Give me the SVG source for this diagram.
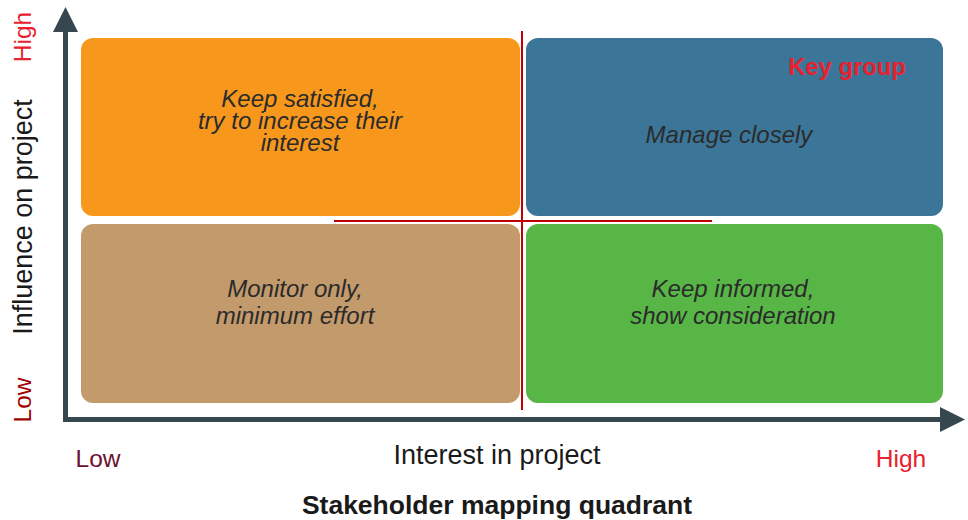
<svg xmlns="http://www.w3.org/2000/svg" width="968" height="520" viewBox="0 0 968 520">
  <style>
    text { font-family: "Liberation Sans", Arial, sans-serif; }
    .quad-label { font-size: 24px; font-style: italic; fill: #2b2b2b; text-anchor: middle; }
    .axis-title { font-size: 27px; fill: #1a1a1a; text-anchor: middle; }
    .tick { font-size: 24.5px; text-anchor: middle; }
    .axis { stroke: #37474f; stroke-width: 5; fill: none; }
    .divider { stroke: #c00000; stroke-width: 2; fill: none; }
  </style>
  <defs>
    <marker id="axisHead" viewBox="0 0 25 25" refX="0" refY="12.5" markerWidth="25" markerHeight="25" markerUnits="userSpaceOnUse" orient="auto">
      <path d="M0,0 L25,12.5 L0,25 Z" fill="#37474f"/>
    </marker>
  </defs>

  <!-- quadrants -->
  <g id="q-keep-satisfied">
    <rect x="81" y="38" width="439" height="178" rx="12" fill="#f7981d"/>
    <text class="quad-label" x="300" y="107">Keep satisfied,</text>
    <text class="quad-label" x="300" y="129">try to increase their</text>
    <text class="quad-label" x="300" y="151">interest</text>
  </g>
  <g id="q-manage-closely">
    <rect x="526" y="38" width="417" height="178" rx="12" fill="#3b7699"/>
    <text class="quad-label" x="729" y="143">Manage closely</text>
    <text x="847" y="75" font-size="23.8" font-weight="bold" fill="#e8212e" text-anchor="middle">Key group</text>
  </g>
  <g id="q-monitor">
    <rect x="81" y="224" width="439" height="179" rx="12" fill="#c39a6b"/>
    <text class="quad-label" x="295" y="297">Monitor only,</text>
    <text class="quad-label" x="295" y="324">minimum effort</text>
  </g>
  <g id="q-keep-informed">
    <rect x="526" y="224" width="417" height="179" rx="12" fill="#58b646"/>
    <text class="quad-label" x="733" y="297">Keep informed,</text>
    <text class="quad-label" x="733" y="324">show consideration</text>
  </g>

  <!-- axes and dividers -->
  <g id="connectors">
    <line class="divider" x1="522" y1="31" x2="522" y2="410"/>
    <line class="divider" x1="334" y1="221" x2="712" y2="221"/>
    <line class="axis" x1="65.5" y1="422" x2="65.5" y2="32" marker-end="url(#axisHead)"/>
    <line class="axis" x1="63" y1="419.5" x2="940" y2="419.5" marker-end="url(#axisHead)"/>
  </g>

  <!-- axis labels -->
  <g id="y-axis-labels">
    <text class="tick" transform="translate(31,37) rotate(-90)" fill="#e8212e">High</text>
    <text class="axis-title" transform="translate(32,217) rotate(-90)">Influence on project</text>
    <text class="tick" transform="translate(31,400) rotate(-90)" fill="#a00000">Low</text>
  </g>
  <g id="x-axis-labels">
    <text class="tick" x="98" y="467" fill="#6b1030">Low</text>
    <text class="axis-title" x="497" y="464">Interest in project</text>
    <text class="tick" x="901" y="467" fill="#e8212e">High</text>
  </g>

  <text id="title" x="497" y="514" font-size="26.5" font-weight="bold" fill="#1a1a1a" text-anchor="middle">Stakeholder mapping quadrant</text>
</svg>
